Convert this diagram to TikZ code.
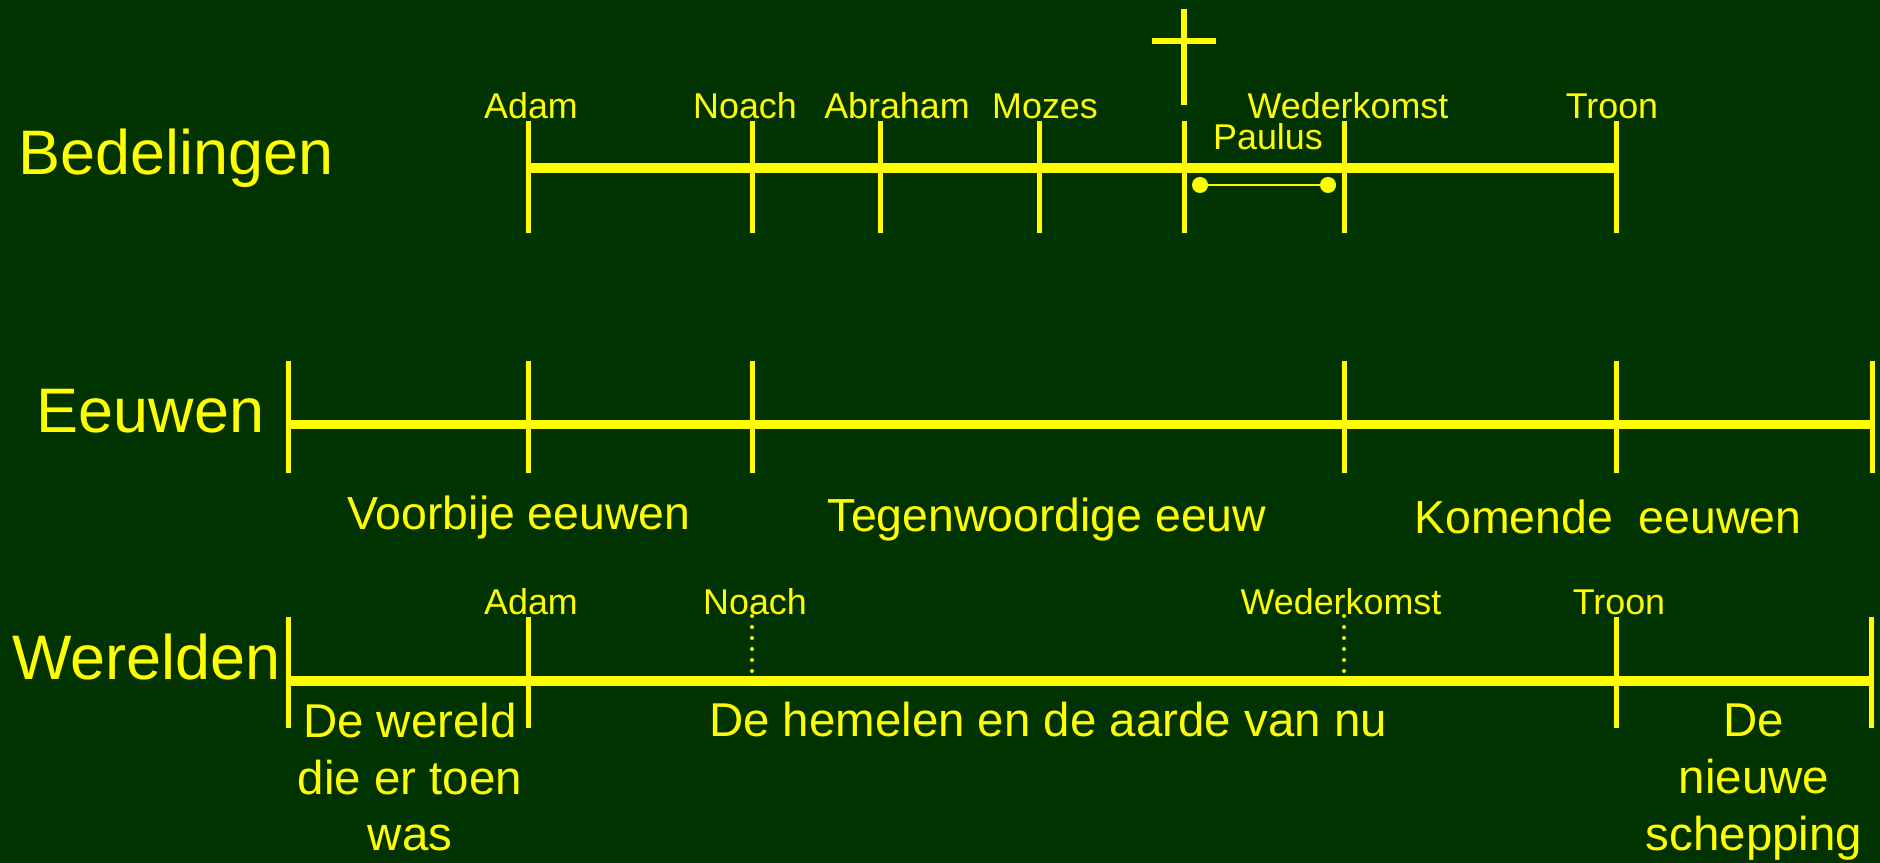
\documentclass[tikz,border=0pt]{standalone}
\usepackage{fontspec}
\setmainfont{Liberation Sans}
\usetikzlibrary{positioning}
\definecolor{geel}{HTML}{FFFF00}
\definecolor{bord}{HTML}{003300}
\tikzset{
  tijdlijn/.style={draw=geel, line width=0.95mm},
  maatstreep/.style={draw=geel, line width=0.5mm},
  stippel/.style={draw=geel, line width=0.4mm, line cap=round, dash pattern=on 0pt off 1.1mm},
  rijnaam/.style={text=geel, font=\fontsize{17.9}{21}\selectfont, inner sep=0pt, anchor=base west},
  klein/.style={text=geel, font=\fontsize{10.2}{12}\selectfont, inner sep=0pt, anchor=base},
  middel/.style={text=geel, font=\fontsize{13.2}{15.7}\selectfont, inner sep=0pt, anchor=base},
  blok/.style={text=geel, font=\fontsize{13.5}{16.2}\selectfont, inner sep=0pt, anchor=base, align=center},
}

\begin{document}
\begin{tikzpicture}[x=0.1mm, y=-0.1mm]
  \fill[bord] (0,0) rectangle (1880,863);
  \useasboundingbox (0,0) rectangle (1880,863);

  % Bedelingen
  \node[rijnaam] (bedelingen) at (18,175) {Bedelingen};
  \draw[tijdlijn] (528,168) -- (1616,168);
  \foreach \x in {528,752,880,1039,1184,1344,1616}
    \draw[maatstreep] (\x,121) -- (\x,233);
  \foreach \x/\n/\t in {531/adam/Adam, 745/noach/Noach, 897/abraham/Abraham,
                        1045/mozes/Mozes, 1348/wederkomst/Wederkomst, 1612/troon/Troon}
    \node[klein] (b-\n) at (\x,119) {\t};
  \node[klein] (paulus) at (1268,150) {Paulus};
  \draw[geel, line width=0.67mm] (1184,9) -- (1184,105) (1152,41) -- (1216,41);
  \coordinate (p-begin) at (1200,185);
  \coordinate (p-eind) at (1328,185);
  \draw[geel, line width=0.25mm] (p-begin) -- (p-eind);
  \fill[geel] (p-begin) circle (8) (p-eind) circle (8);

  % Eeuwen
  \node[rijnaam] (eeuwen) at (36,433) {Eeuwen};
  \draw[tijdlijn] (288,424.5) -- (1872,424.5);
  \foreach \x in {288,528,752,1344,1616,1872}
    \draw[maatstreep] (\x,361) -- (\x,473);
  \node[middel] (voorbij) at (519,530) {Voorbije eeuwen};
  \node[middel] (tegenwoordig) at (1047,532) {Tegenwoordige eeuw};
  \node[middel] (komend) at (1608,534) {Komende\ \ eeuwen};

  % Werelden (base = laatste regel)
  \node[rijnaam] (werelden) at (12,680) {Werelden};
  \draw[tijdlijn] (288,681) -- (1871,681);
  \foreach \x in {288,528,1616,1871}
    \draw[maatstreep] (\x,617) -- (\x,728);
  \foreach \x in {752,1344}
    \draw[stippel] (\x,616) -- (\x,672);
  \foreach \x/\n/\t in {531/adam/Adam, 755/noach/Noach, 1341/wederkomst/Wederkomst, 1619/troon/Troon}
    \node[klein] (w-\n) at (\x,615) {\t};
  \node[blok] (toen) at (410,851) {De wereld\\die er toen\\was};
  \node[blok] (nu) at (1048,737) {De hemelen en de aarde van nu};
  \node[blok] (nieuw) at (1754,850) {De\\nieuwe\\schepping};
\end{tikzpicture}
\end{document}
